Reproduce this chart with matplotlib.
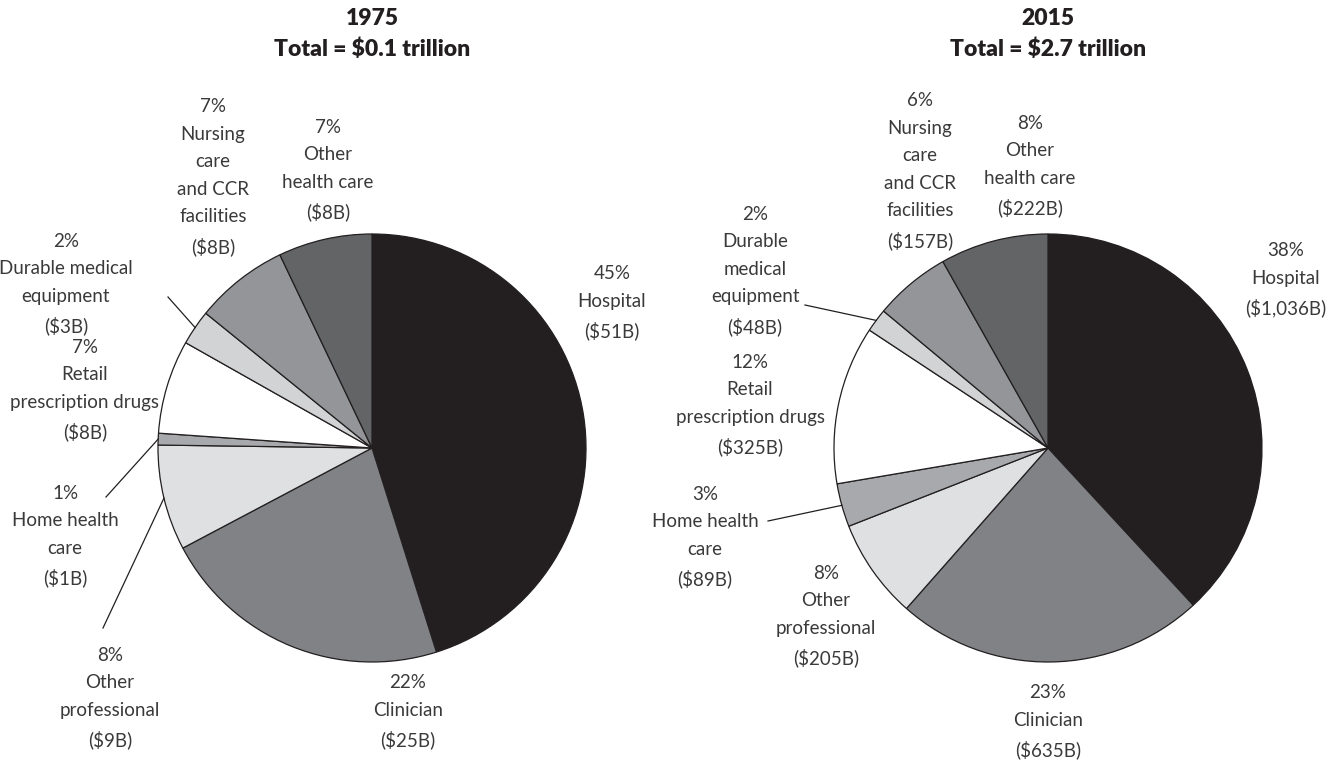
import matplotlib
matplotlib.use("Agg")
import matplotlib.pyplot as plt
import numpy as np

plt.rcParams['font.family'] = ['Lato', 'DejaVu Sans']

# national health spending by category, 1975 vs 2015
spend_1975 = [51, 25, 9, 1, 8, 3, 8, 8]
pct_1975 = [45, 22, 8, 1, 7, 2, 7, 7]
spend_2015 = [1036, 635, 205, 89, 325, 48, 157, 222]
pct_2015 = [38, 23, 8, 3, 12, 2, 6, 8]

names_1975 = ["Hospital", "Clinician", "Other\nprofessional", "Home health\ncare",
              "Retail\nprescription drugs", "Durable medical\nequipment",
              "Nursing\ncare\nand CCR\nfacilities", "Other\nhealth care"]
names_2015 = ["Hospital", "Clinician", "Other\nprofessional", "Home health\ncare",
              "Retail\nprescription drugs", "Durable\nmedical\nequipment",
              "Nursing\ncare\nand CCR\nfacilities", "Other\nhealth care"]

colors = ['#231f20', '#808285', '#dfe0e2', '#a7a9ac', '#ffffff', '#d1d3d4', '#939598', '#636466']

W, H = 1330, 765
TXT = '#3a3a3a'

fig = plt.figure(figsize=(13.3, 7.65), dpi=100)
ax = fig.add_axes([0, 0, 1, 1])


def fy(y):
    # pixel row (from top) -> data y
    return H - y


def draw_pie(values, pcts, names, cx, cy, r, label_pos, leaders, title):
    wedges, _ = ax.pie(values, colors=colors, startangle=90, counterclock=False,
                       center=(cx, fy(cy)), radius=r,
                       wedgeprops=dict(edgecolor='#231f20', linewidth=0.9))
    for i, (lx, ly) in enumerate(label_pos):
        txt = "{}%\n{}\n(${:,}B)".format(pcts[i], names[i], values[i])
        ax.text(lx, fy(ly), txt, ha='center', va='center', fontsize=13.5,
                fontweight='normal', color=TXT, linespacing=1.75)
    for i, (sx, sy) in leaders.items():
        w = wedges[i]
        th = np.deg2rad((w.theta1 + w.theta2) / 2)
        ex = cx + r * np.cos(th)
        ey = fy(cy) + r * np.sin(th)
        ax.plot([sx, ex], [fy(sy), ey], color='#231f20', lw=0.9)
    ax.text(cx, fy(34), title, ha='center', va='center', fontsize=16.5,
            fontweight='heavy', color='#231f20', linespacing=1.55)


draw_pie(spend_1975, pct_1975, names_1975, 372, 448, 214,
         [(612, 303), (408, 712), (110, 698), (65, 536), (85, 390), (66, 284),
          (213, 177), (328, 170)],
         {2: (103, 628), 3: (106, 497), 5: (168, 297)},
         "1975\nTotal = $0.1 trillion")

draw_pie(spend_2015, pct_2015, names_2015, 1048, 448, 214,
         [(1286, 280), (1048, 722), (826, 616), (705, 537), (750, 405), (755, 271),
          (920, 171), (1030, 166)],
         {3: (768, 521), 5: (805, 305)},
         "2015\nTotal = $2.7 trillion")

ax.set_xlim(0, W)
ax.set_ylim(0, H)
ax.set_aspect('equal')
ax.axis('off')

fig.savefig("out.png", dpi=100, facecolor='white')
